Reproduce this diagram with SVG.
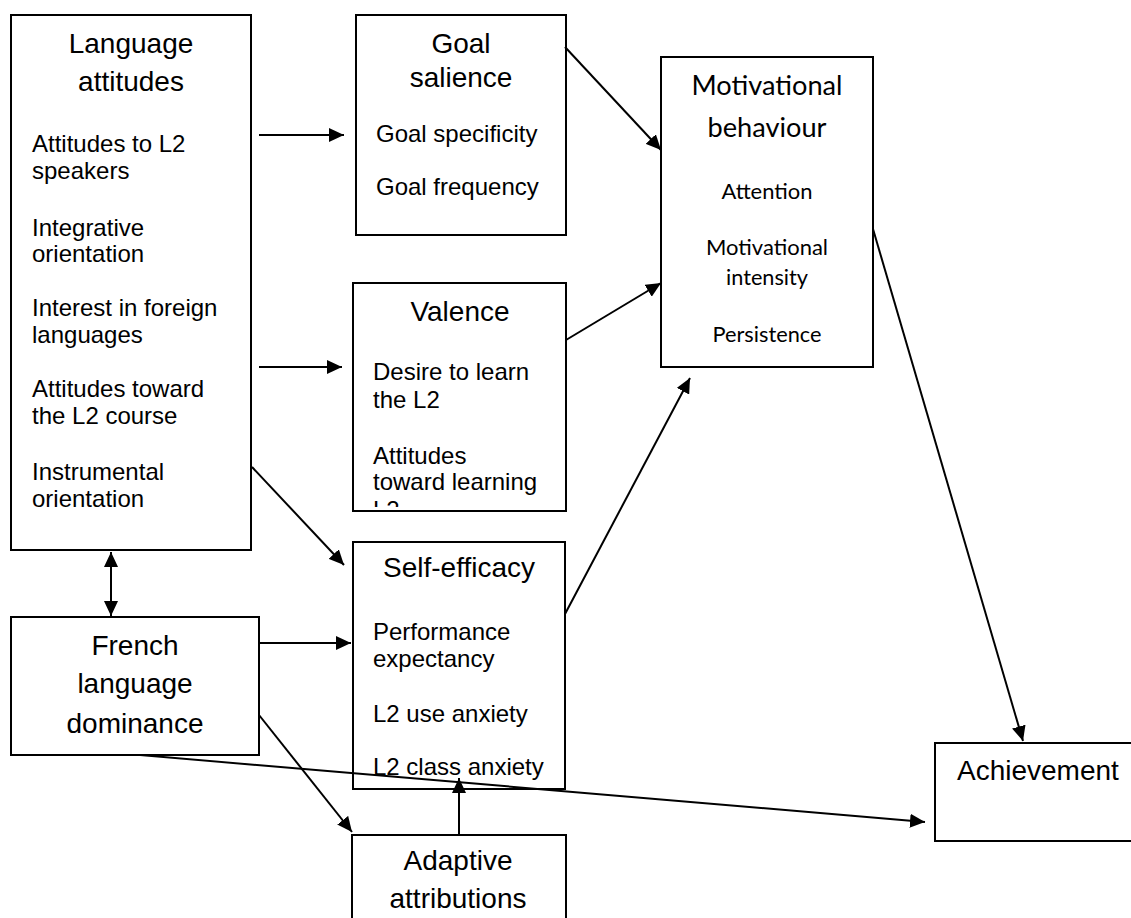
<svg xmlns="http://www.w3.org/2000/svg" width="1131" height="918" viewBox="0 0 1131 918">
<style>
.box{fill:#fff;stroke:#000;stroke-width:2}
.t{font-family:"Liberation Sans",Arial,sans-serif;font-size:28px;fill:#000;text-anchor:middle}
.s{font-family:"Liberation Sans",Arial,sans-serif;font-size:24px;fill:#000}
.ct{font-family:Lato,"Open Sans",sans-serif;font-size:27px;fill:#000;text-anchor:middle}
.cs{font-family:Lato,"Open Sans",sans-serif;font-size:21px;fill:#000;text-anchor:middle}
.ln{stroke:#000;stroke-width:2;fill:none}
</style>
<defs>
<marker id="ah" markerUnits="userSpaceOnUse" markerWidth="16" markerHeight="14" refX="15" refY="7" orient="auto">
<path d="M0,0 L15,7 L0,14 z" fill="#000"/>
</marker>
<marker id="ahs" markerUnits="userSpaceOnUse" markerWidth="16" markerHeight="14" refX="15" refY="7" orient="auto-start-reverse">
<path d="M0,0 L15,7 L0,14 z" fill="#000"/>
</marker>
<clipPath id="vclip"><rect x="353" y="283" width="213" height="224"/></clipPath>
</defs>
<rect width="1131" height="918" fill="#fff"/>

<g id="language-attitudes">
<rect class="box" x="11" y="15" width="240" height="535"/>
<text class="t" x="131" y="53">Language</text>
<text class="t" x="131" y="91">attitudes</text>
<text class="s" x="32" y="152">Attitudes to L2</text>
<text class="s" x="32" y="179">speakers</text>
<text class="s" x="32" y="236">Integrative</text>
<text class="s" x="32" y="262">orientation</text>
<text class="s" x="32" y="316">Interest in foreign</text>
<text class="s" x="32" y="343">languages</text>
<text class="s" x="32" y="397">Attitudes toward</text>
<text class="s" x="32" y="424">the L2 course</text>
<text class="s" x="32" y="480">Instrumental</text>
<text class="s" x="32" y="507">orientation</text>
</g>

<g id="goal-salience">
<rect class="box" x="356" y="15" width="210" height="220"/>
<text class="t" x="461" y="53">Goal</text>
<text class="t" x="461" y="87">salience</text>
<text class="s" x="376" y="142">Goal specificity</text>
<text class="s" x="376" y="195">Goal frequency</text>
</g>

<g id="valence">
<rect class="box" x="353" y="283" width="213" height="228"/>
<text class="t" x="460" y="321">Valence</text>
<g clip-path="url(#vclip)">
<text class="s" x="373" y="380">Desire to learn</text>
<text class="s" x="373" y="408">the L2</text>
<text class="s" x="373" y="464">Attitudes</text>
<text class="s" x="373" y="490">toward learning</text>
<text class="s" x="373" y="518">L2</text>
</g>
</g>

<g id="self-efficacy">
<rect class="box" x="353" y="542" width="212" height="247"/>
<text class="t" x="459" y="577">Self-efficacy</text>
<text class="s" x="373" y="640">Performance</text>
<text class="s" x="373" y="667">expectancy</text>
<text class="s" x="373" y="722">L2 use anxiety</text>
<text class="s" x="373" y="775">L2 class anxiety</text>
</g>

<g id="motivational-behaviour">
<rect class="box" x="661" y="57" width="212" height="310"/>
<text class="ct" x="767" y="95" textLength="151" lengthAdjust="spacingAndGlyphs">Motivational</text>
<text class="ct" x="767" y="137" textLength="119" lengthAdjust="spacingAndGlyphs">behaviour</text>
<text class="cs" x="767" y="199" textLength="91" lengthAdjust="spacingAndGlyphs">Attention</text>
<text class="cs" x="767" y="255" textLength="122" lengthAdjust="spacingAndGlyphs">Motivational</text>
<text class="cs" x="767" y="285" textLength="82" lengthAdjust="spacingAndGlyphs">intensity</text>
<text class="cs" x="767" y="342" textLength="109" lengthAdjust="spacingAndGlyphs">Persistence</text>
</g>

<g id="french-language-dominance">
<rect class="box" x="11" y="617" width="248" height="138"/>
<text class="t" x="135" y="655">French</text>
<text class="t" x="135" y="693">language</text>
<text class="t" x="135" y="733">dominance</text>
</g>

<g id="adaptive-attributions">
<rect class="box" x="352" y="835" width="214" height="100"/>
<text class="t" x="458" y="870">Adaptive</text>
<text class="t" x="458" y="908">attributions</text>
</g>

<g id="achievement">
<rect class="box" x="935" y="743" width="210" height="98"/>
<text class="t" x="957" y="780" style="text-anchor:start">Achievement</text>
</g>

<g id="connectors">
<line class="ln" x1="259" y1="135" x2="344" y2="135" marker-end="url(#ah)"/>
<line class="ln" x1="259" y1="367" x2="342" y2="367" marker-end="url(#ah)"/>
<line class="ln" x1="252" y1="467" x2="344" y2="565" marker-end="url(#ah)"/>
<line class="ln" x1="111" y1="552" x2="111" y2="616" marker-start="url(#ahs)" marker-end="url(#ah)"/>
<line class="ln" x1="259" y1="643" x2="351" y2="643" marker-end="url(#ah)"/>
<line class="ln" x1="259" y1="715" x2="352" y2="832" marker-end="url(#ah)"/>
<line class="ln" x1="140" y1="755" x2="925" y2="822" marker-end="url(#ah)"/>
<line class="ln" x1="459" y1="835" x2="459" y2="778" marker-end="url(#ah)"/>
<line class="ln" x1="565" y1="47" x2="661" y2="150" marker-end="url(#ah)"/>
<line class="ln" x1="566" y1="340" x2="661" y2="283" marker-end="url(#ah)"/>
<line class="ln" x1="565" y1="614" x2="690" y2="378" marker-end="url(#ah)"/>
<line class="ln" x1="873" y1="229" x2="1023" y2="741" marker-end="url(#ah)"/>
</g>
</svg>
